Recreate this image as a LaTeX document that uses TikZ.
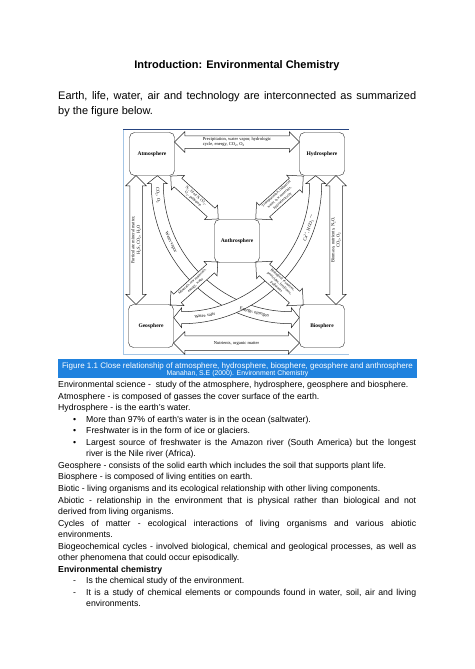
\documentclass[tikz,border=0pt]{standalone}
\usepackage{fontspec}
\setmainfont{Liberation Sans}
\newfontfamily\figserif{Liberation Serif}
\usetikzlibrary{shapes.arrows,calc}

\definecolor{capblue}{RGB}{32,130,222}
\definecolor{framenavy}{RGB}{38,68,128}
\definecolor{frameblue}{RGB}{165,198,230}

\newcommand\chemsub[1]{\textsubscript{#1}}
\newcommand\chemsup[1]{\textsuperscript{#1}}
% one of the two big curved bands, drawn round its centre
\newcommand\arcband{%
  \draw[flowline] (-128,0) -- (-124,0) -- (-134,-8) -- (-144,0) -- (-140,0)
    arc[start angle=180,end angle=90,radius=140] -- (0,144) -- (8,134)
    -- (0,124) -- (0,128) arc[start angle=90,end angle=180,radius=128] -- cycle;}

\tikzset{
  sphere/.style={draw=black!85,fill=white,rounded corners=5pt,minimum width=45pt,
    minimum height=43pt,inner sep=0pt,font=\figserif\bfseries\fontsize{5.5}{6}\selectfont},
  flow/.style={double arrow,draw=black!85,fill=white,line width=0.5pt,
    double arrow head extend=4pt,inner xsep=0pt,inner ysep=#1,minimum width=0pt},
  flowline/.style={draw=black!85,fill=white,line width=0.5pt},
  flowtext/.style={inner sep=0pt,align=center,
    font=\figserif\fontsize{4.5}{5.4}\selectfont},
  diagtext/.style={flowtext,font=\figserif\fontsize{3.7}{4.7}\selectfont},
  txt/.style={anchor=base west,inner sep=0pt,font=\fontsize{8.7}{11.6}\selectfont},
}

\begin{document}
\begin{tikzpicture}[x=1pt,y=-1pt]
\fill[white] (0,0) rectangle (474,669);
\useasboundingbox (0,0) rectangle (474,669);

% heading
\node[anchor=base,inner sep=0pt,font=\bfseries\fontsize{11}{13}\selectfont] (title) at (237,68)
  {Introduction: Environmental Chemistry};
\node[txt,font=\fontsize{11}{15}\selectfont] (intro1) at (58,99.5)
  {\hbox to 358pt{Earth, life, water, air and technology are interconnected as summarized}};
\node[txt,font=\fontsize{11}{15}\selectfont] (intro2) at (58,114) {by the figure below.};

% frame of the figure
\draw[frameblue,line width=0.8pt] (123,129) -- (123,354) -- (349,354);
\draw[framenavy,line width=0.9pt] (123,129) -- (349,129);

% the spheres
\node[sphere] (atm) at (152,154) {Atmosphere};
\node[sphere] (hyd) at (322,154) {Hydrosphere};
\node[sphere] (anth) at (237,241) {Anthrosphere};
\node[sphere] (geo) at (151,326) {Geosphere};
\node[sphere] (bio) at (322,326) {Biosphere};

% big crossing bands
\coordinate (c1) at ($(bio.west |- atm.south)+(-8,8)$);
\coordinate (c2) at ($(geo.east |- hyd.south)+(8,8)$);
\begin{scope}[shift={(c1)}] \arcband \end{scope}
\begin{scope}[shift={(c2)},xscale=-1] \arcband \end{scope}
\node[flowtext,rotate=-85] (co2o2) at ($(c1)+(175:134)$) {CO\chemsub{2}, O\chemsub{2}};
\node[flowtext,rotate=-64] (watervap) at ($(c1)+(154:134)$) {Water vapor};
\node[flowtext,rotate=-14] (energyn) at ($(c1)+(106:134)$) {Energy, nitrogen};
\node[flowtext,rotate=71] (cahco) at ($(c2)+(19:134)$) {Ca\chemsup{2+}, HCO\chemsub{3}\chemsup{$-$}};
\node[flowtext,rotate=8] (watersalt) at ($(c2)+(80:134)$) {Water, salts};

% straight exchanges
\node[flow=6pt,minimum height=125pt] (atm-hyd) at ($(atm.east)!.5!(hyd.west)+(0,-12)$) {};
\node[flowtext,align=left] (atm-hyd-t) at (atm-hyd)
  {Precipitation, water vapor, hydrologic\\cycle, energy, CO\chemsub{2}, O\chemsub{2}};
\node[flow=7pt,minimum height=126pt] (geo-bio) at ($(geo.east)!.5!(bio.west)+(0,17)$) {};
\node[flowtext] (geo-bio-t) at (geo-bio) {Nutrients, organic matter};
\node[flow=6pt,minimum height=129pt,rotate=90] (geo-atm) at ($(atm.south)!.5!(geo.north)+(-15.5,0)$) {};
\node[flowtext,rotate=90] (geo-atm-t) at (geo-atm)
  {Particulate mineral matter,\\H\chemsub{2}S, CO\chemsub{2}, H\chemsub{2}O};
\node[flow=6pt,minimum height=129pt,rotate=90] (bio-hyd) at ($(hyd.south)!.5!(bio.north)+(14,0)$) {};
\node[flowtext,rotate=90] (bio-hyd-t) at (bio-hyd)
  {Biomass, nutrients, N\chemsub{2}O,\\CO\chemsub{2}, O\chemsub{2}};

% to and from the anthrosphere
\node[flow=5.5pt,minimum height=64pt,rotate=-42] (atm-anth) at ($(atm.south east)!.5!(anth.north west)$) {};
\node[diagtext,rotate=-42] (atm-anth-t) at (atm-anth)
  {N\chemsub{2}, fixed N, CO\chemsub{2},\\O\chemsub{2}, pollutants};
\node[flow=7.5pt,minimum height=64pt,rotate=42] (hyd-anth) at ($(hyd.south west)!.5!(anth.north east)$) {};
\node[diagtext,rotate=42] (hyd-anth-t) at (hyd-anth)
  {Transportation, industrial\\water, raw materials,\\hydroelectricity};
\node[flow=5.5pt,minimum height=64pt,rotate=42] (geo-anth) at ($(geo.north east)!.5!(anth.south west)$) {};
\node[diagtext,rotate=42] (geo-anth-t) at (geo-anth)
  {Minerals, raw materials,\\energy, water};
\node[flow=7.5pt,minimum height=64pt,rotate=-42] (bio-anth) at ($(bio.north west)!.5!(anth.south east)$) {};
\node[diagtext,rotate=-42] (bio-anth-t) at (bio-anth)
  {Biological resources,\\pesticides, fertilizers,\\pollutants};

% caption
\node[fill=capblue,minimum width=359pt,minimum height=19pt,inner sep=0pt] (capbar) at (237.5,368.5) {};
\node[anchor=base,inner sep=0pt,text=white,font=\fontsize{8}{9}\selectfont] (cap1) at (237.5,368)
  {Figure 1.1 Close relationship of atmosphere, hydrosphere, biosphere, geosphere and anthrosphere};
\node[anchor=base,inner sep=0pt,text=white,font=\fontsize{6.9}{8}\selectfont] (cap2) at (237.5,375.7)
  {Manahan, S.E (2000). Environment Chemistry};

% notes
\node[txt] (l1) at (58,387.5) {Environmental science -~ study of the atmosphere, hydrosphere, geosphere and biosphere.};
\node[txt] (l2) at (58,399.05) {Atmosphere - is composed of gasses the cover surface of the earth.};
\node[txt] (l3) at (58,410.6) {Hydrosphere - is the earth's water.};
\node[txt] (b1) at (73,422.15) {•};
\node[txt] (l4) at (86,422.15) {More than 97\% of earth's water is in the ocean (saltwater).};
\node[txt] (b2) at (73,433.7) {•};
\node[txt] (l5) at (86,433.7) {Freshwater is in the form of ice or glaciers.};
\node[txt] (b3) at (73,445.25) {•};
\node[txt] (l6) at (86,445.25)
  {\hbox to 330pt{Largest source of freshwater is the Amazon river (South America) but the longest}};
\node[txt] (l7) at (86,456.8) {river is the Nile river (Africa).};
\node[txt] (l8) at (58,468.35) {Geosphere - consists of the solid earth which includes the soil that supports plant life.};
\node[txt] (l9) at (58,479.9) {Biosphere - is composed of living entities on earth.};
\node[txt] (l10) at (58,491.45) {Biotic - living organisms and its ecological relationship with other living components.};
\node[txt] (l11) at (58,503)
  {\hbox to 358pt{Abiotic - relationship in the environment that is physical rather than biological and not}};
\node[txt] (l12) at (58,514.55) {derived from living organisms.};
\node[txt] (l13) at (58,526.1)
  {\hbox to 358pt{Cycles of matter - ecological interactions of living organisms and various abiotic}};
\node[txt] (l14) at (58,537.65) {environments.};
\node[txt] (l15) at (58,549.2)
  {\hbox to 358pt{Biogeochemical cycles - involved biological, chemical and geological processes, as well as}};
\node[txt] (l16) at (58,560.75) {other phenomena that could occur episodically.};
\node[txt,font=\bfseries\fontsize{8.7}{11.6}\selectfont] (l17) at (58,572.3) {Environmental chemistry};
\node[txt] (d1) at (73,583.85) {-};
\node[txt] (l18) at (86,583.85) {Is the chemical study of the environment.};
\node[txt] (d2) at (73,595.4) {-};
\node[txt] (l19) at (86,595.4)
  {\hbox to 330pt{It is a study of chemical elements or compounds found in water, soil, air and living}};
\node[txt] (l20) at (86,606.95) {environments.};
\end{tikzpicture}
\end{document}
